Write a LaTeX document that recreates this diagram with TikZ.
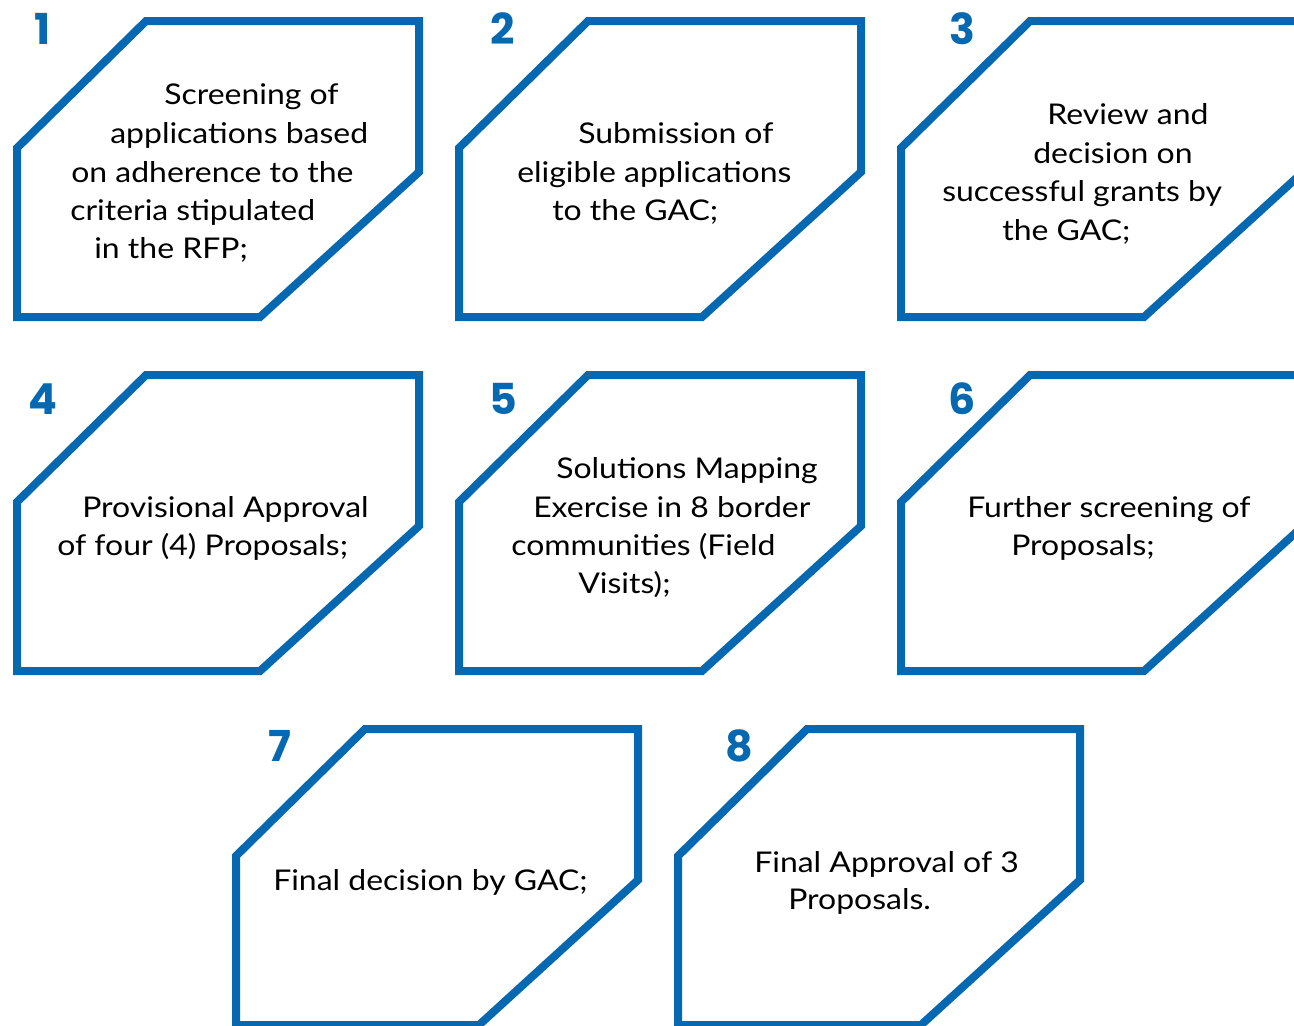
\documentclass[tikz,border=0pt]{standalone}
\usepackage{fontspec}
\setmainfont{Lato}[FakeStretch=1.12]
\newfontfamily\numfont{Poppins}
\definecolor{stepblue}{RGB}{6,104,176}

\begin{document}
\begin{tikzpicture}[
    x=0.75pt, y=-0.75pt,
    cutbox/.style={draw=stepblue, line width=6pt},
    num/.style={anchor=base, inner sep=0pt, text=stepblue, font=\numfont\bfseries\fontsize{32}{32}\selectfont},
    txt/.style={anchor=base west, inner sep=0pt, font=\fontsize{21.4}{26}\selectfont}
]

\useasboundingbox (0,0) rectangle (1294,1025);

% Step frames (top-left corner of each frame)
\foreach \L/\T in {17/21, 459/21, 901/21, 17/375, 459/375, 901/375, 236/729, 678/729}
    \draw[cutbox] (\L,\T+127) -- (\L+129,\T) -- (\L+402,\T) -- (\L+402,\T+151)
        -- (\L+243,\T+296) -- (\L,\T+296) -- cycle;

% Step numbers
\node[num] (n1) at (43,44) {1};
\node[num] (n2) at (503,44) {2};
\node[num] (n3) at (962,44) {3};
\node[num] (n4) at (43,414) {4};
\node[num] (n5) at (503,414) {5};
\node[num] (n6) at (962,414) {6};
\node[num] (n7) at (280,761) {7};
\node[num] (n8) at (739,761) {8};

% Step 1
\node[txt] (s1a) at (164,104) {Screening of};
\node[txt] (s1b) at (110,143) {applications based};
\node[txt] (s1c) at (71,182) {on adherence to the};
\node[txt] (s1d) at (70,220) {criteria stipulated};
\node[txt] (s1e) at (94,258) {in the RFP;};

% Step 2
\node[txt] (s2a) at (578,143) {Submission of};
\node[txt] (s2b) at (517,182) {eligible applications};
\node[txt] (s2c) at (552,220) {to the GAC;};

% Step 3
\node[txt] (s3a) at (1047,124) {Review and};
\node[txt] (s3b) at (1033,163) {decision on};
\node[txt] (s3c) at (942,201) {successful grants by};
\node[txt] (s3d) at (1002,240) {the GAC;};

% Step 4
\node[txt] (s4a) at (82,517) {Provisional Approval};
\node[txt] (s4b) at (57,555) {of four (4) Proposals;};

% Step 5
\node[txt] (s5a) at (556,478) {Solutions Mapping};
\node[txt] (s5b) at (533,517) {Exercise in 8 border};
\node[txt] (s5c) at (511,555) {communities (Field};
\node[txt] (s5d) at (578,593) {Visits);};

% Step 6
\node[txt] (s6a) at (967,517) {Further screening of};
\node[txt] (s6b) at (1011,555) {Proposals;};

% Step 7
\node[txt] (s7a) at (273,890) {Final decision by GAC;};

% Step 8
\node[txt] (s8a) at (754,872) {Final Approval of 3};
\node[txt] (s8b) at (788,909) {Proposals.};

\end{tikzpicture}
\end{document}
